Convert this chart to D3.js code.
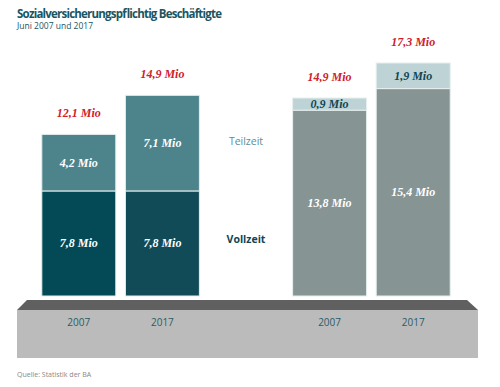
<!DOCTYPE html>
<html>
<head>
<meta charset="utf-8">
<script src="https://cdn.jsdelivr.net/npm/d3@7"></script>
<style>
  body { margin: 0; background: #fff; }
  svg { display: block; }
</style>
</head>
<body>
<div id="chart"></div>
<script>
// data
var slots = ['a2007', 'a2017', 'gap', 'b2007', 'b2017'];
var years = ['2007', '2017', '2007', '2017'];
var barSlots = ['a2007', 'a2017', 'b2007', 'b2017'];
var vollzeit = [7.8, 7.8, 13.8, 15.4];
var teilzeit = [4.2, 7.1, 0.9, 1.9];
var totals = [12.1, 14.9, 14.9, 17.3];

var vollColors = ['#034a56', '#114b57', '#879494', '#879494'];
var teilColors = ['#4d838b', '#4d838b', '#bdd3d5', '#bdd3d5'];
var teilText = ['#fff', '#fff', '#0f4653', '#0f4653'];

var width = 500, height = 387;
var fmt = function(v) { return String(v.toFixed(1)).replace('.', ',') + ' Mio'; };

var svg = d3.select('#chart').append('svg')
  .attr('width', width)
  .attr('height', height);

// scales
var x = d3.scaleBand().domain(slots).range([37, 455]).padding(0);
var y = d3.scaleLinear().domain([0, 17.3]).range([296, 63]);
var barW = x.bandwidth() * 0.885;
var cx = function(s) { return x(s) + x.bandwidth() / 2; };

// title
svg.append('text')
  .attr('x', 17).attr('y', 18)
  .attr('font-family', 'Open Sans, sans-serif')
  .attr('font-weight', 'bold')
  .attr('font-size', 11.5)
  .attr('fill', '#1a5561')
  .attr('textLength', 205)
  .text('Sozialversicherungspflichtig Beschäftigte');
svg.append('text')
  .attr('x', 17).attr('y', 29)
  .attr('font-family', 'Open Sans, sans-serif')
  .attr('font-size', 8.5)
  .attr('fill', '#1a5561')
  .text('Juni 2007 und 2017');

// base platform
svg.append('path')
  .attr('d', d3.line()([[17, 310], [27, 300], [467, 300], [478, 310]]) + 'Z')
  .attr('fill', '#606060');
svg.append('rect')
  .attr('x', 17).attr('y', 310)
  .attr('width', 461).attr('height', 48)
  .attr('fill', '#bbbbbb');

svg.selectAll('.year')
  .data(years)
  .enter().append('text')
  .attr('class', 'year')
  .attr('x', function(d, i) { return cx(barSlots[i]); })
  .attr('y', 326)
  .attr('text-anchor', 'middle')
  .attr('font-family', 'Open Sans, sans-serif')
  .attr('font-size', 10)
  .attr('fill', '#2c5c66')
  .text(function(d) { return d; });

// bars
var bars = svg.selectAll('.bar')
  .data(barSlots)
  .enter().append('g')
  .attr('class', 'bar');

bars.append('rect')
  .attr('x', function(d) { return cx(d) - barW / 2; })
  .attr('y', function(d, i) { return y(vollzeit[i]); })
  .attr('width', barW)
  .attr('height', function(d, i) { return y(0) - y(vollzeit[i]); })
  .attr('fill', function(d, i) { return vollColors[i]; })
  .attr('stroke', '#e6eeee')
  .attr('stroke-width', 1);

bars.append('rect')
  .attr('x', function(d) { return cx(d) - barW / 2; })
  .attr('y', function(d, i) { return y(vollzeit[i] + teilzeit[i]); })
  .attr('width', barW)
  .attr('height', function(d, i) { return y(vollzeit[i]) - y(vollzeit[i] + teilzeit[i]); })
  .attr('fill', function(d, i) { return teilColors[i]; })
  .attr('stroke', '#e6eeee')
  .attr('stroke-width', 1);

// segment labels
var serif = 'Liberation Serif, DejaVu Serif, serif';
bars.append('text')
  .attr('x', function(d) { return cx(d); })
  .attr('y', function(d, i) { return (y(0) + y(vollzeit[i])) / 2 + 4; })
  .attr('text-anchor', 'middle')
  .attr('font-family', serif)
  .attr('font-style', 'italic')
  .attr('font-weight', 'bold')
  .attr('font-size', 12)
  .attr('fill', '#fff')
  .text(function(d, i) { return fmt(vollzeit[i]); });

bars.append('text')
  .attr('x', function(d) { return cx(d); })
  .attr('y', function(d, i) { return (y(vollzeit[i]) + y(vollzeit[i] + teilzeit[i])) / 2 + 4; })
  .attr('text-anchor', 'middle')
  .attr('font-family', serif)
  .attr('font-style', 'italic')
  .attr('font-weight', 'bold')
  .attr('font-size', 12)
  .attr('fill', function(d, i) { return teilText[i]; })
  .text(function(d, i) { return fmt(teilzeit[i]); });

// totals
bars.append('text')
  .attr('x', function(d) { return cx(d); })
  .attr('y', function(d, i) { return y(vollzeit[i] + teilzeit[i]) - 17; })
  .attr('text-anchor', 'middle')
  .attr('font-family', serif)
  .attr('font-style', 'italic')
  .attr('font-weight', 'bold')
  .attr('font-size', 12)
  .attr('fill', '#d0202e')
  .text(function(d, i) { return fmt(totals[i]); });

// legend in the gap
svg.append('text')
  .attr('x', cx('gap')).attr('y', 145)
  .attr('text-anchor', 'middle')
  .attr('font-family', 'Open Sans, sans-serif')
  .attr('font-size', 10.5)
  .attr('fill', '#5a8e97')
  .text('Teilzeit');
svg.append('text')
  .attr('x', cx('gap')).attr('y', 243)
  .attr('text-anchor', 'middle')
  .attr('font-family', 'Open Sans, sans-serif')
  .attr('font-weight', 'bold')
  .attr('font-size', 10.5)
  .attr('fill', '#0f4653')
  .text('Vollzeit');

// source
svg.append('text')
  .attr('x', 17).attr('y', 377)
  .attr('font-family', 'Open Sans, sans-serif')
  .attr('font-size', 7)
  .attr('fill', '#888')
  .text('Quelle: Statistik der BA');
</script>
</body>
</html>
